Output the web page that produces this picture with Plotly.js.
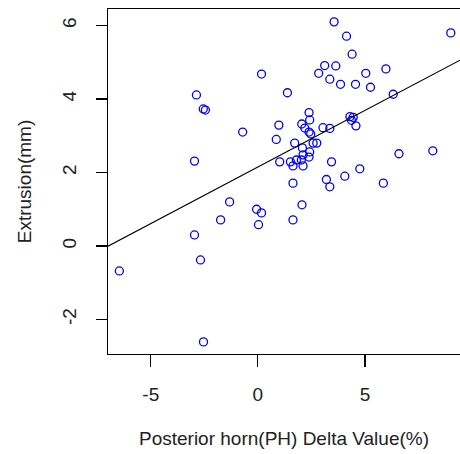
<!DOCTYPE html>
<html>
<head>
<meta charset="utf-8">
<script src="https://cdn.plot.ly/plotly-3.0.1.min.js"></script>
<style>html,body{margin:0;padding:0;background:#fff;}#chart{width:460px;height:454px;}</style>
</head>
<body>
<div id="chart"></div>
<script>
// Posterior horn (PH) delta value (%) vs extrusion (mm)
const phDelta = [
  -6.47, -2.54, -2.96, -2.68, -2.96, -2.87, -2.55, -2.45, -1.74, -1.32,
  -0.71, 0.17, -0.06, 0.17, 0.03,
  3.56, 4.14, 9.01, 4.40, 3.12, 3.64, 2.84, 3.36, 3.86, 5.04,
  5.98, 4.56, 5.26, 6.32, 4.30, 4.45, 4.37, 4.58, 3.04, 3.36,
  6.59, 8.17, 3.44, 4.76, 4.06, 3.20, 3.36, 5.86,
  1.38, 0.98, 0.86, 2.39, 2.42, 2.05, 2.19, 2.39, 2.47, 1.72,
  2.58, 2.75, 2.08, 2.42, 2.11, 1.02, 1.52, 1.64, 1.80, 2.03,
  2.39, 2.11, 1.64, 2.06, 1.64
];
const extrusion = [
  -0.68, -2.61, 0.30, -0.38, 2.31, 4.11, 3.73, 3.70, 0.71, 1.20,
  3.10, 4.68, 1.00, 0.90, 0.58,
  6.10, 5.71, 5.80, 5.22, 4.91, 4.90, 4.70, 4.54, 4.40, 4.70,
  4.82, 4.40, 4.32, 4.13, 3.52, 3.50, 3.42, 3.27, 3.22, 3.20,
  2.51, 2.59, 2.29, 2.10, 1.90, 1.81, 1.61, 1.71,
  4.17, 3.29, 2.90, 3.63, 3.43, 3.32, 3.21, 3.10, 3.05, 2.80,
  2.80, 2.80, 2.67, 2.56, 2.48, 2.29, 2.29, 2.18, 2.34, 2.34,
  2.42, 2.18, 1.71, 1.12, 0.71
];
// fitted regression line: intercept, slope
const fitCoef = [2.15, 0.308];
const xTicks = [-5, 0, 5];
const yTicks = [-2, 0, 2, 4, 6];

const xRange = [-7.0, 9.44];
const yRange = [-2.94, 6.45];
const lineX = xRange.slice();
const lineY = lineX.map(x => fitCoef[0] + fitCoef[1] * x);

const font = 'Arial, "Liberation Sans", sans-serif';

const traces = [
  {
    x: phDelta, y: extrusion, type: 'scatter', mode: 'markers',
    marker: {symbol: 'circle-open', size: 8, color: '#0000ff', line: {width: 1.3, color: '#0000ff'}},
    hoverinfo: 'x+y', showlegend: false
  },
  {
    x: lineX, y: lineY, type: 'scatter', mode: 'lines',
    line: {color: '#000', width: 1.1}, hoverinfo: 'skip', showlegend: false
  }
];

const layout = {
  width: 460, height: 454,
  margin: {l: 108, r: 0, t: 9, b: 100, pad: 0},
  paper_bgcolor: '#fff', plot_bgcolor: '#fff',
  font: {family: font, size: 19, color: '#222'},
  showlegend: false,
  xaxis: {
    range: xRange, tickvals: xTicks, ticktext: xTicks.map(String),
    showgrid: false, zeroline: false, showline: true, mirror: true,
    linecolor: '#000', linewidth: 1.2,
    ticks: 'outside', ticklen: 12, tickwidth: 1.2, tickcolor: '#000',
    ticklabelstandoff: 11,
    tickfont: {family: font, size: 19, color: '#222'},
    title: {text: 'Posterior horn(PH) Delta Value(%)', font: {family: font, size: 19, color: '#222'}, standoff: 27}
  },
  yaxis: {
    range: yRange, tickvals: yTicks, ticktext: yTicks.map(String),
    showgrid: false, zeroline: false, showline: true, mirror: false,
    linecolor: '#000', linewidth: 1.2,
    ticks: 'outside', ticklen: 11, tickwidth: 1.2, tickcolor: '#000',
    tickangle: -90, ticklabelstandoff: 12,
    tickfont: {family: font, size: 19, color: '#222'},
    title: {text: 'Extrusion(mm)', font: {family: font, size: 19, color: '#222'}, standoff: 22}
  }
};

Plotly.newPlot('chart', traces, layout, {staticPlot: true, displayModeBar: false});
</script>
</body>
</html>
